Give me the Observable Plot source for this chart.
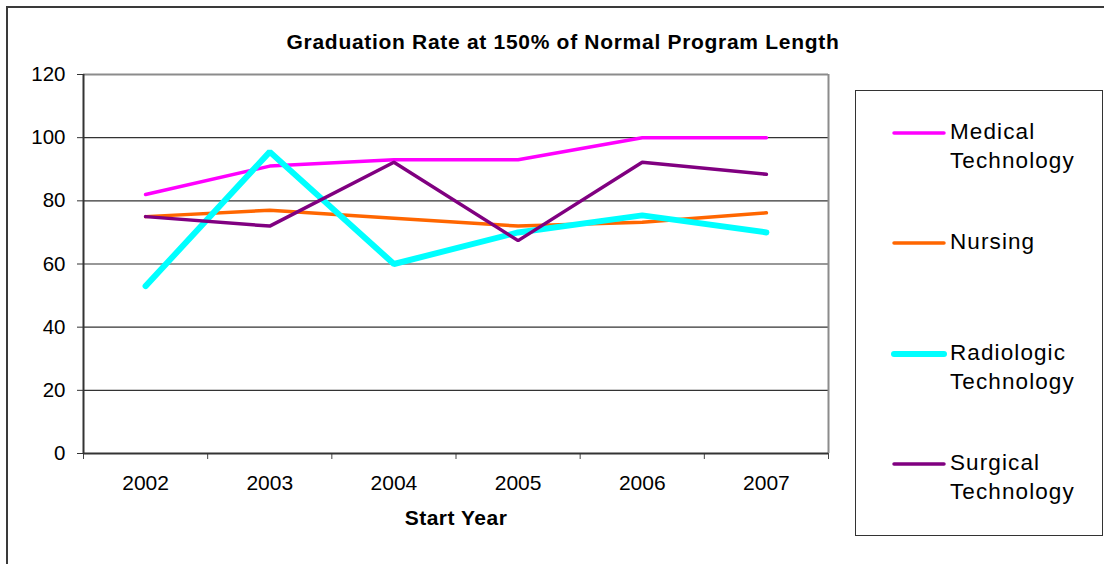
<!DOCTYPE html>
<html>
<head>
<meta charset="utf-8">
<script src="https://cdn.jsdelivr.net/npm/d3@7"></script>
<script src="https://cdn.jsdelivr.net/npm/@observablehq/plot@0.6"></script>
<style>
  html, body { margin: 0; padding: 0; background: #fff; }
  body { width: 1104px; height: 564px; overflow: hidden; position: relative; font-family: "Liberation Sans", Arial, sans-serif; }
  #frame { position: absolute; left: 6px; top: 6px; width: 1200px; height: 700px; border: 2px solid #3a3a3a; box-sizing: border-box; }
  #chart { position: absolute; left: 0; top: 0; }
  #title { position: absolute; left: 0; top: 30px; width: 1126px; text-align: center; font-weight: bold; font-size: 21px; letter-spacing: 0.7px; color: #000; }
  #legend { position: absolute; left: 855px; top: 90px; width: 248px; height: 446px; border: 1px solid #333; box-sizing: border-box; background: #fff; }
  .sw { position: absolute; }
  .lab { position: absolute; font-size: 22.5px; line-height: 29px; letter-spacing: 1.1px; color: #000; white-space: nowrap; }
</style>
</head>
<body>
<div id="frame"></div>
<div id="chart"></div>
<div id="title"></div>
<div id="legend"></div>
<script>
// ---- data ----
const years = [2002, 2003, 2004, 2005, 2006, 2007];
const seriesNames = ["Medical Technology", "Nursing", "Radiologic Technology", "Surgical Technology"];
const medical    = [82, 91, 93, 93, 100, 100];
const nursing    = [75, 77, 74.5, 72, 73.2, 76.2];
const radiologic = [53, 95.5, 60, 70, 75.4, 70];
const surgical   = [75, 72, 92.2, 67.4, 92.2, 88.4];
const seriesColors = ["#FF00FF", "#FF6600", "#00FFFF", "#800080"];
const seriesWidths = [3.5, 3.5, 6, 3.5];
const yTicks = [0, 20, 40, 60, 80, 100, 120];
const titleText = "Graduation Rate at 150% of Normal Program Length";
const xLabel = "Start Year";

const seriesValues = [medical, nursing, radiologic, surgical];
const rows = [];
seriesNames.forEach((s, i) => years.forEach((y, j) => rows.push({series: s, year: y, value: seriesValues[i][j]})));
const boundaries = [...years.map(y => y - 0.5), years[years.length - 1] + 0.5];

const lineMarks = seriesNames.map((s, i) =>
  Plot.line(rows.filter(r => r.series === s), {
    x: "year", y: "value", stroke: seriesColors[i], strokeWidth: seriesWidths[i],
    strokeLinejoin: "miter", strokeLinecap: "round"
  })
);

const chart = Plot.plot({
  width: 1104,
  height: 564,
  marginLeft: 83,
  marginRight: 276,
  marginTop: 74,
  marginBottom: 111,
  style: {background: "transparent", fontFamily: "Liberation Sans, Arial, sans-serif", color: "#000", overflow: "visible"},
  x: {type: "linear", domain: [boundaries[0], boundaries[boundaries.length - 1]]},
  y: {domain: [0, 120]},
  marks: [
    Plot.ruleY(yTicks.filter(t => t > 0 && t < 120), {stroke: "#333", strokeWidth: 1.2}),
    Plot.ruleY([120], {stroke: "#8c8c8c", strokeWidth: 2}),
    Plot.ruleX([boundaries[boundaries.length - 1]], {stroke: "#8c8c8c", strokeWidth: 2}),
    Plot.axisY({ticks: yTicks, tickSize: 6, tickPadding: 12, fontSize: 20.5, label: null, stroke: "#333", tickFormat: d => String(d)}),
    Plot.axisX({ticks: boundaries, tickSize: 6, tickFormat: () => "", label: null, stroke: "#444"}),
    Plot.axisX({ticks: years, tickSize: 0, tickPadding: 22, fontSize: 21, label: null, tickFormat: d => String(d)}),
    Plot.ruleX([boundaries[0]], {stroke: "#333", strokeWidth: 2}),
    Plot.ruleY([0], {stroke: "#333", strokeWidth: 2}),
    ...lineMarks,
    Plot.text([xLabel], {frameAnchor: "bottom", dy: 71, text: d => d, fontSize: 21, fontWeight: "bold", fill: "#000"})
  ]
});
chart.querySelectorAll("text").forEach(t => {
  if (t.textContent === xLabel) t.setAttribute("letter-spacing", "0.5");
});
document.getElementById("chart").appendChild(chart);

// ---- legend ----
const legend = document.getElementById("legend");
seriesNames.forEach((name, i) => {
  const top = 116 + i * 110.3 - 90;
  const sw = document.createElementNS("http://www.w3.org/2000/svg", "svg");
  sw.setAttribute("width", 56); sw.setAttribute("height", 12);
  sw.setAttribute("class", "sw");
  sw.style.left = (890 - 855) + "px";
  sw.style.top = (top + 16 - 6) + "px";
  const ln = document.createElementNS("http://www.w3.org/2000/svg", "line");
  ln.setAttribute("x1", 3); ln.setAttribute("x2", 53);
  ln.setAttribute("y1", 6); ln.setAttribute("y2", 6);
  ln.setAttribute("stroke", seriesColors[i]);
  ln.setAttribute("stroke-width", seriesWidths[i]);
  ln.setAttribute("stroke-linecap", "round");
  sw.appendChild(ln);
  legend.appendChild(sw);
  const lab = document.createElement("div");
  lab.className = "lab";
  lab.style.left = (949 - 855) + "px";
  lab.style.top = top + "px";
  lab.innerHTML = name.split(" ").join("<br>");
  legend.appendChild(lab);
});
document.getElementById("title").textContent = titleText;
</script>
</body>
</html>
